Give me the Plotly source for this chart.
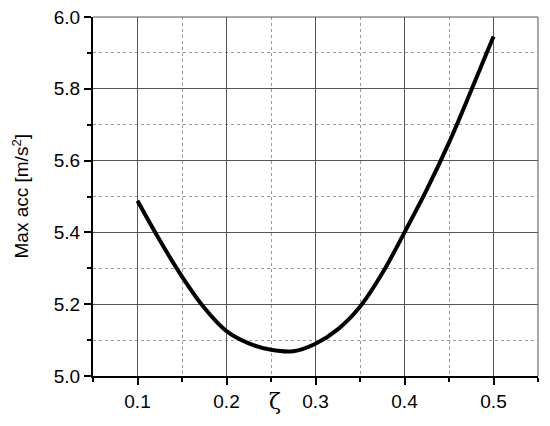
import plotly.graph_objects as go

zeta = [0.100, 0.125, 0.150, 0.175, 0.200, 0.225, 0.250, 0.275, 0.300, 0.325, 0.350, 0.375, 0.400, 0.425, 0.450, 0.475, 0.500]
max_acc = [5.488, 5.378, 5.277, 5.190, 5.125, 5.091, 5.073, 5.069, 5.090, 5.130, 5.193, 5.286, 5.400, 5.519, 5.650, 5.796, 5.946]

x_ticks = [0.1, 0.2, 0.3, 0.4, 0.5]
x_tick_labels = ["0.1", "0.2", "0.3", "0.4", "0.5"]
y_ticks = [5.0, 5.2, 5.4, 5.6, 5.8, 6.0]
y_tick_labels = ["5.0", "5.2", "5.4", "5.6", "5.8", "6.0"]

fig = go.Figure()
fig.add_trace(go.Scatter(
    x=zeta, y=max_acc, mode="lines",
    line=dict(color="black", width=4, shape="spline", smoothing=1.0),
    showlegend=False,
))

font = dict(family="Liberation Sans, Arial, sans-serif", size=19, color="black")

fig.update_layout(
    width=542, height=418,
    margin=dict(l=85, r=12, t=9, b=50),
    paper_bgcolor="white", plot_bgcolor="white",
    font=font,
    xaxis=dict(
        range=[0.05, 0.55], automargin=False,
        tickmode="array", tickvals=x_ticks, ticktext=x_tick_labels,
        ticks="outside", ticklen=7, tickwidth=1.5, tickcolor="black",
        showline=True, linecolor="black", linewidth=2,
        showgrid=True, gridcolor="#555555", gridwidth=1,
        zeroline=False, ticklabeloverflow="allow",
        minor=dict(dtick=0.05, tick0=0.05, ticks="outside", ticklen=4, tickwidth=1.5, tickcolor="black",
                   showgrid=True, gridcolor="#999999", griddash="dot", gridwidth=1),
        tickfont=font,
    ),
    yaxis=dict(
        range=[5.0, 6.0], automargin=False,
        tickmode="array", tickvals=y_ticks, ticktext=y_tick_labels,
        ticks="outside", ticklen=7, tickwidth=1.5, tickcolor="black",
        showline=True, linecolor="black", linewidth=2,
        showgrid=True, gridcolor="#555555", gridwidth=1,
        zeroline=False, ticklabeloverflow="allow",
        minor=dict(dtick=0.1, tick0=5.0, ticks="outside", ticklen=4, tickwidth=1.5, tickcolor="black",
                   showgrid=True, gridcolor="#999999", griddash="dot", gridwidth=1),
        tickfont=font,
    ),
    shapes=[
        dict(type="line", xref="paper", yref="paper", x0=0, x1=1, y0=1, y1=1,
             line=dict(color="#555555", width=1)),
        dict(type="line", xref="paper", yref="paper", x0=1, x1=1, y0=0, y1=1,
             line=dict(color="#555555", width=1)),
    ],
    annotations=[
        dict(text="Max acc [m/s<sup>2</sup>]", xref="paper", yref="paper", x=0, y=0.5,
             xanchor="center", yanchor="middle", xshift=-73, textangle=-90, showarrow=False,
             font=font),
        dict(text="ζ", xref="paper", yref="paper", x=0.409, y=0,
             xanchor="center", yanchor="middle", yshift=-25, showarrow=False,
             font=dict(family="DejaVu Serif, serif", size=22, color="black")),
    ],
)

fig.write_html("out.html")
